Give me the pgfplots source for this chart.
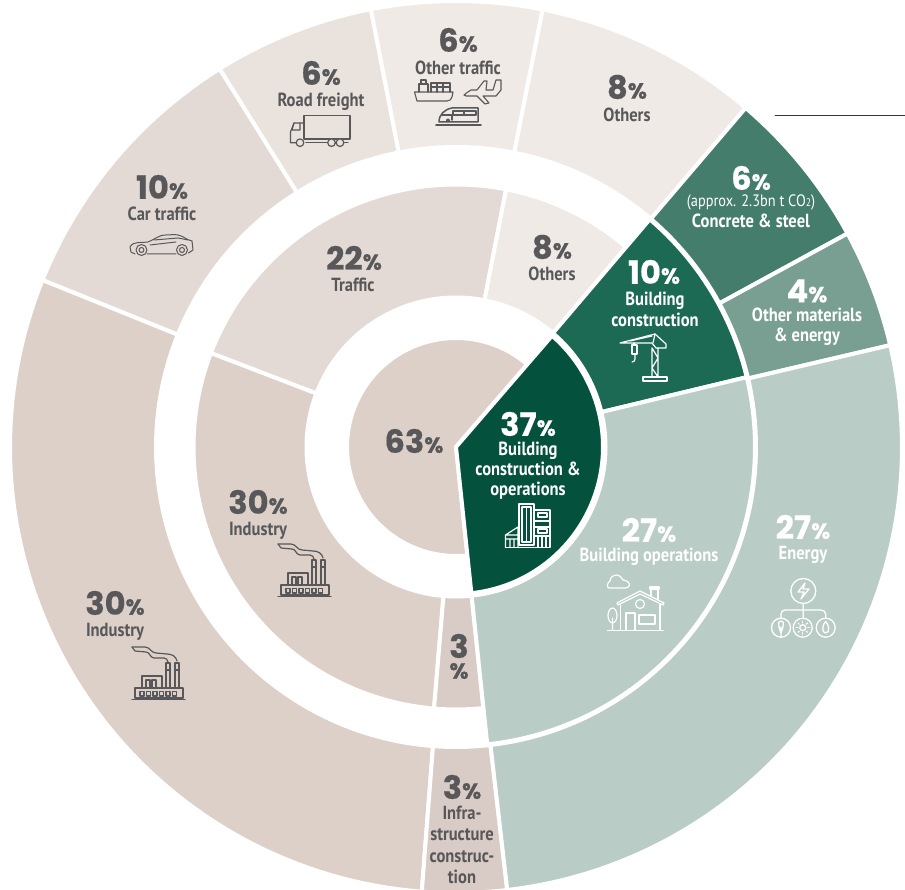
\documentclass[border=0pt]{standalone}
\usepackage{fontspec}
\usepackage{pgfplots}
\pgfplotsset{compat=1.18}
\setmainfont{PT Sans}[FakeStretch=0.87]
\newfontfamily\numf{Poppins}[BoldFeatures={FakeBold=0.5}]
\definecolor{txt}{HTML}{58585A}
\definecolor{gA}{HTML}{04513D}
\definecolor{gB}{HTML}{1C6954}
\definecolor{gC}{HTML}{457D6C}
\definecolor{gD}{HTML}{789F92}
\definecolor{gE}{HTML}{B9CCC6}
\definecolor{bA}{HTML}{DDD0C9}
\definecolor{bB}{HTML}{D9CBC5}
\definecolor{bC}{HTML}{E3DAD5}
\definecolor{bD}{HTML}{E9E2DD}
\definecolor{bE}{HTML}{F0EAE6}

% sector: colour, start angle, end angle, inner radius, outer radius
\newcommand\sector[5]{%
  \gdef\pts{}%
  \pgfmathtruncatemacro\nseg{ceil((#3-#2)/1.5)}%
  \foreach \i in {0,...,\nseg}{%
    \pgfmathsetmacro\ang{#2+(#3-#2)/\nseg*\i}%
    \xdef\pts{\pts (\ang,#5)}%
  }%
  \foreach \i in {\nseg,...,0}{%
    \pgfmathsetmacro\ang{#2+(#3-#2)/\nseg*\i}%
    \xdef\pts{\pts (\ang,#4)}%
  }%
  \edef\cmd{\noexpand\addplot[fill=#1,draw=white,line width=4pt,data cs=polar] coordinates {\pts} -- cycle;}%
  \cmd
}
\newcommand\pct[4]{\node[text=#4,inner sep=0pt] at (#1,#2) {\numf\bfseries\fontsize{32}{32}\selectfont #3\fontsize{22}{22}\selectfont\%};}
\newcommand\lab[4]{\node[text=#4,inner sep=0pt,anchor=base] at (#1,{#2+8}) {\bfseries\fontsize{19}{20}\selectfont #3};}

\newcommand\factory[3]{\begin{scope}[shift={(#1,#2)},draw=#3,line width=1.2pt]
  \draw (0,1)--(13,1) to[out=0,in=180] (24,7)--(35,8) to[out=0,in=100] (45,15);
  \draw (0,1)--(3,5)--(14,6) to[out=0,in=180] (22,12)--(32,12) to[out=0,in=100] (36,16);
  \draw (34,17) rectangle (38,42) (43,17) rectangle (47,42);
  \draw (34,24)--(38,24) (43,24)--(47,24);
  \draw (3,42) rectangle (51,52);
  \draw[line width=1.5pt] (0,53.5)--(53,53.5);
  \foreach \x in {8,14.5,21,27.5,34,40.5}{\draw (\x,45.5) rectangle (\x+4,50);}
  \draw (10,42)--(10,30)--(30,30)--(30,42);
  \draw (14,42)--(14,34)--(18,34)--(18,42) (20,42)--(20,34)--(24,34)--(24,42);
\end{scope}}

\begin{document}
\begin{tikzpicture}
\path[use as bounding box] (0,0) rectangle (905pt,890pt);
\begin{axis}[
    at={(0,0)}, anchor=south west,
    scale only axis, width=905pt, height=890pt,
    xmin=-456, xmax=449, ymin=-443, ymax=447,
    hide axis,
]
% centre
\sector{bA}{49.2}{276}{0}{109}
\sector{gA}{-84}{49.2}{0}{147}
% middle ring
\sector{bA}{159}{265.2}{149.5}{262.5}
\sector{bC}{79}{159}{149.5}{262.5}
\sector{bE}{49.6}{79}{149.5}{262.5}
\sector{bB}{265.2}{276}{149.5}{262.5}
\sector{gB}{13.5}{49.6}{149.5}{299}
\sector{gE}{-84}{13.5}{149.5}{299}
% outer ring
\sector{bA}{158}{265.6}{300}{446}
\sector{bB}{265.6}{276.6}{300}{446}
\sector{bC}{122}{158}{300}{446}
\sector{bD}{101}{122}{300}{446}
\sector{bE}{78.8}{101}{300}{446}
\sector{bE}{49.5}{78.8}{300}{446}
\sector{gC}{28.6}{49.5}{300}{446}
\sector{gD}{13.2}{28.6}{300}{446}
\sector{gE}{-83.4}{13.2}{300}{446}
\end{axis}

\begin{scope}[shift={(0,890pt)},x=1pt,y=-1pt,line cap=round,line join=round]
\draw[color=black!80,line width=1pt] (775,116)--(905,116);

\pct{458}{40}{6}{txt}   \lab{458}{67}{Other traffic}{txt}
\pct{627}{87}{8}{txt}   \lab{627}{114}{Others}{txt}
\pct{321}{73}{6}{txt}   \lab{321}{99}{Road freight}{txt}
\pct{162}{187}{10}{txt} \lab{162}{213}{Car traffic}{txt}
\pct{354}{258}{22}{txt} \lab{353}{284}{Traffic}{txt}
\pct{552}{247}{8}{txt}  \lab{552}{273}{Others}{txt}
\pct{654}{272}{10}{white} \lab{655}{298}{Building}{white} \lab{655}{319}{construction}{white}
\pct{751}{178}{6}{white}
\node[text=white,inner sep=0pt] at (751,202) {\fontsize{16.5}{16}\selectfont (approx. 2.3bn t CO{\fontsize{11}{11}\selectfont 2})};
\lab{751}{220}{Concrete \& steel}{white}
\pct{807}{291}{4}{white} \lab{807}{314}{Other materials}{white} \lab{807}{334}{\& energy}{white}
\pct{414}{441}{63}{txt}
\pct{528}{424}{37}{white} \lab{528}{448}{Building}{white} \lab{528}{468}{construction \&}{white} \lab{528}{488}{operations}{white}
\pct{649}{530}{27}{white} \lab{649}{554}{Building operations}{white}
\pct{803}{527}{27}{white} \lab{803}{552}{Energy}{white}
\pct{258}{502}{30}{txt} \lab{258}{528}{Industry}{txt}
\pct{115}{603}{30}{txt} \lab{115}{629}{Industry}{txt}
\node[text=txt,inner sep=0pt] at (459,646) {\numf\bfseries\fontsize{32}{32}\selectfont 3};
\node[text=txt,inner sep=0pt] at (459,671) {\numf\bfseries\fontsize{22}{22}\selectfont\%};
\pct{462}{787}{3}{txt}
\lab{462}{812}{Infra-}{txt} \lab{462}{833}{structure}{txt} \lab{462}{855}{construc-}{txt} \lab{462}{876}{tion}{txt}

% icons
\factory{278}{543}{txt}
\factory{132}{646}{txt}

% truck
\begin{scope}[shift={(290,115)},draw=txt,line width=1.2pt]
  \draw (14,0.5) rectangle (60,24);
  \draw (16,27.7)--(37,27.7) (54,27.7)--(58,27.7);
  \draw (6.5,27.7)--(0.5,27.7)--(0.5,17)--(4,8)--(14,8);
  \draw (4,8)--(2,15)--(10,15)--(10,8);
  \draw[fill=bD] (10,27.7) circle (3.8) (41.5,27.7) circle (3.8) (50,27.7) circle (3.8);
\end{scope}

% car
\begin{scope}[shift={(130,234)},draw=txt,line width=1pt]
  \draw (11.5,16) circle (5.5) (11.5,16) circle (2.5) (52,16) circle (5.5) (52,16) circle (2.5);
  \draw (5,20)--(1,18)--(0,13) to[out=60,in=190] (18,8) to[out=20,in=180] (36,1) to[out=0,in=170] (48,1) to[out=-10,in=170] (62,7)--(63,16)--(58.5,19);
  \draw (17,20)--(46,20) (24,6)--(48,4)--(58,6) (20,11)--(46,8);
\end{scope}

% ship
\begin{scope}[shift={(414,79)},draw=txt,line width=1.1pt]
  \draw (0.5,13)--(39,13)--(38,18) to[out=-100,in=0] (33,22)--(3,22)--(0.5,13);
  \draw (5,13)--(5,5)--(14,5)--(14,13) (7,5)--(7,1)--(12,1)--(12,5);
  \draw (17,13)--(17,4)--(36,4)--(36,13) (17,8)--(36,8) (23,4)--(23,13) (29,4)--(29,13);
\end{scope}

% plane
\begin{scope}[shift={(463,79)},draw=txt,line width=1.1pt]
  \draw (1,16) to[out=20,in=190] (8,11)--(14,11)--(21,2)--(24,2)--(23,11)--(30,11)--(33,1)--(38,1)--(38,11)--(33,17)--(20,17)--(26,24)--(22,25)--(14,17)--(3,17)--cycle;
\end{scope}

% train
\begin{scope}[shift={(436,107)},draw=txt,line width=1.5pt]
  \draw (3,15) to[out=90,in=190] (16,1)--(42,1)--(42,15)--cycle;
  \draw (17,4) rectangle (40,8) (28,4)--(28,8) (6,8)--(16,8)--(16,13);
  \draw[line width=1.7pt] (0,18)--(45,18);
  \fill[txt] (12,13.5) circle (2);
\end{scope}

% crane
\begin{scope}[shift={(620,334)},draw=white,line width=1.2pt]
  \draw (0,9) -- (35,0) -- (46,10) -- (46,14) -- (36,14) -- (32,9) -- cycle;
  \draw (35,0)--(33,9) (10,7)--(32,2);
  \draw (32,14)--(32,43) (38,14)--(38,43) (32,14)--(38,24)--(32,34)--(38,43);
  \draw (23,43)--(47,43)--(47,47)--(23,47)--cycle;
  \draw (14,9)--(14,11) (12,11) rectangle (17,20);
  \draw (15,20)--(15,25) to[out=-80,in=0] (12,28);
\end{scope}

% buildings
\begin{scope}[shift={(505,503)},draw=white,line width=1.2pt]
  \draw (14,1) rectangle (29,42);
  \draw (17,4)--(17,39) (21.5,4)--(21.5,39) (26,4)--(26,39) (17,4)--(26,4) (17,39)--(26,39);
  \draw (29,7)--(45,7)--(45,44.5)--(0.5,44.5);
  \draw (33,10) rectangle (42,14) (29,18)--(45,18) (29,24)--(45,24) (33,26) rectangle (42,30) (29,33)--(45,33);
  \draw (33,33)--(33,44) (37,33)--(37,44) (41,33)--(41,44);
  \draw (0.5,44.5)--(0.5,32)--(13,24)--(13,44.5) (0.5,32)--(13,32) (0.5,36)--(13,36) (5,36)--(5,44) (9,36)--(9,44);
\end{scope}

% house with cloud and tree
\begin{scope}[shift={(607,574)},draw=white,line width=1.2pt]
  \draw (2,14) to[out=180,in=200] (3,7) to[out=90,in=180] (10,1) to[out=0,in=120] (16,6) to[out=0,in=40] (22,12) to[out=-120,in=0] (18,14)--cycle;
  \draw (10,29)--(33,17)--(57,29)--(56,31)--(33,20)--(11,31)--cycle;
  \draw (13.5,31)--(13.5,56) (53,30)--(53,56);
  \draw (44,22)--(44,15) (51,15)--(51,26) (43,15)--(52,15)--(52,13)--(43,13)--cycle;
  \draw (33,30) circle (4.5);
  \draw (19,56)--(19,39)--(28,39)--(28,56) (32,41) rectangle (48,50);
  \draw (5.5,41.5) ellipse (4.5 and 7.5) (5.5,44)--(5.5,56);
  \draw[line width=1.5pt] (0.5,56.7)--(56,56.7);
\end{scope}

% energy
\begin{scope}[draw=white,line width=1.3pt]
  \draw (803.3,591) circle (12.5) (781,627.7) circle (9.5) (802.7,627.7) circle (9.5) (825.7,627.7) circle (9.5);
  \draw (803.3,603.5)--(803.3,618) (781,618)--(781,614) to[out=90,in=180] (785,610)--(821,610) to[out=0,in=90] (825.7,614)--(825.7,618);
  \draw (805,583)--(798,592)--(804,592)--(801,599)--(809,589)--(803,589)--cycle;
  \draw (781,621) to[out=0,in=70] (781,633) to[out=110,in=180] cycle (781,627)--(781,637);
  \draw (802.7,627.7) circle (3);
  \foreach \a in {0,45,...,315}{\draw (802.7,627.7)+(\a:5)--+(\a:6.5);}
  \draw (825.7,621.5) to[out=-40,in=0] (825.7,633) to[out=180,in=-140] cycle;
\end{scope}
\end{scope}
\end{tikzpicture}
\end{document}
